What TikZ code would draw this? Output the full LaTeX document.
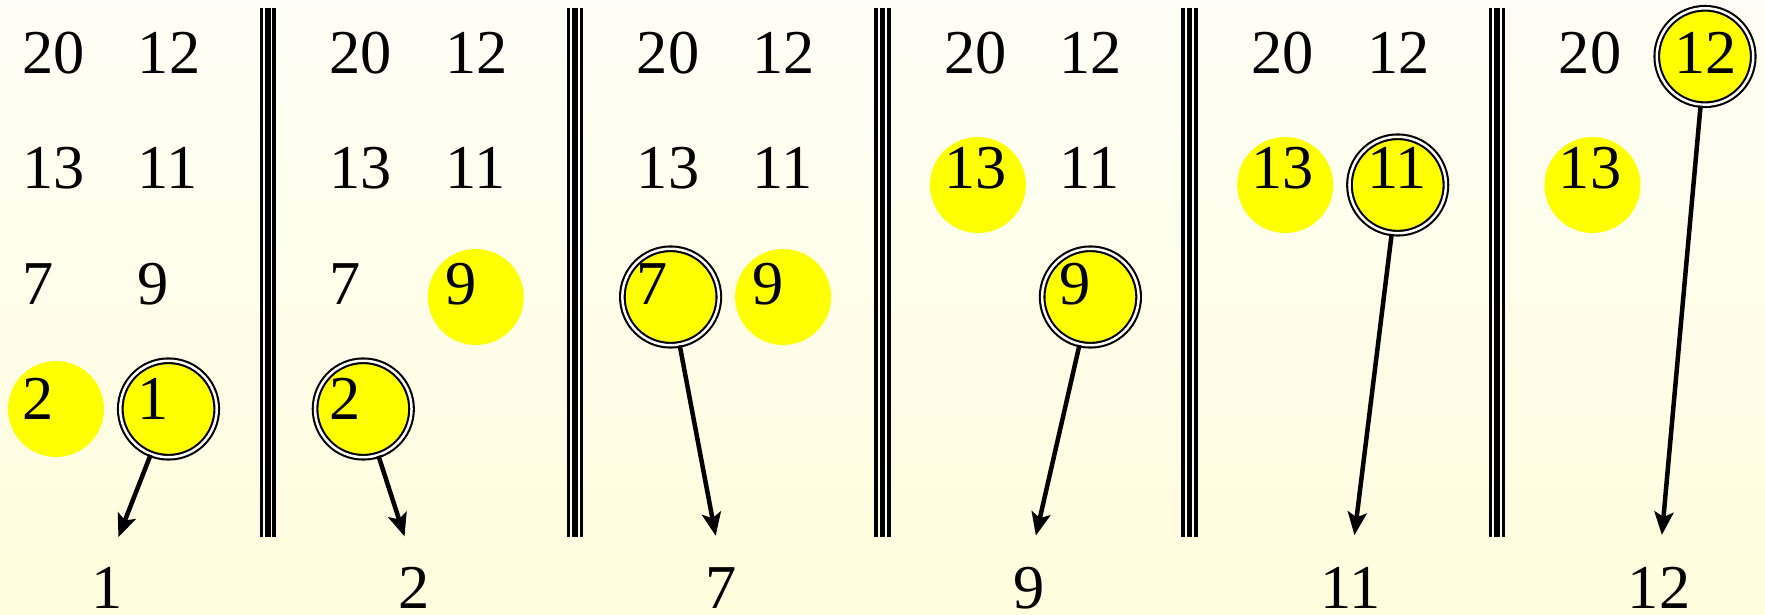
\documentclass[tikz,border=0pt]{standalone}
\usepackage{fontspec}
\setmainfont{Liberation Serif}
\usepackage{tikz}
\usetikzlibrary{arrows.meta}
\definecolor{bgtop}{RGB}{254,254,246}
\definecolor{bgbottom}{RGB}{255,253,220}
\definecolor{hilite}{RGB}{255,255,0}
\tikzset{
    % Number styles
    num/.style={anchor=base west, inner sep=0pt, font=\fontsize{35.5}{40}\selectfont},
    % Circle styles
    seen circle/.style={circle, fill=hilite, minimum size=1.92cm, inner sep=0pt},
    pick circle/.style={circle, fill=hilite, draw=black, line width=0.042cm,
                        double=white, double distance=0.05cm,
                        minimum size=1.93cm, inner sep=0pt},
    % Arrow styles
    arrow/.style={-{Stealth[length=0.46cm, width=0.38cm, inset=0.1cm]},
                  line width=0.09cm, shorten >=0.63cm},
    bar/.style={line width=0.072cm},
    thick bar/.style={line width=0.112cm},
}

\begin{document}
\begin{tikzpicture}[x=0.02cm, y=-0.02cm]
    % Background
    \shade[top color=bgtop, bottom color=bgbottom] (0,0) rectangle (1765,615);
    \useasboundingbox (0,0) rectangle (1765,615);

    % Separators
    \foreach \x in {267.7, 575, 882.3, 1189.6, 1496.9} {
        \draw[bar] (\x-6.4,8) -- (\x-6.4,537);
        \draw[thick bar] (\x,8) -- (\x,537);
        \draw[bar] (\x+6.4,8) -- (\x+6.4,537);
    }

    % Panel 1
    \node[seen circle] (a2c) at (56,409) {};
    \node[pick circle] (a1c) at (168.5,409) {};
    \node[num] (a20) at (22,73.5) {20};
    \node[num] (a12) at (137.5,73.5) {12};
    \node[num] (a13) at (22,189) {13};
    \node[num] (a11) at (137.5,189) {11};
    \node[num] (a7) at (22,304.3) {7};
    \node[num] (a9) at (137.5,304.3) {9};
    \node[num] (a2) at (22,419.7) {2};
    \node[num] (a1) at (137.5,419.7) {1};
    \node[num] (out1) at (91,608) {1};

    % Panel 2
    \node[seen circle] (b9c) at (475.8,297) {};
    \node[pick circle] (b2c) at (363.3,409) {};
    \node[num] (b20) at (329.3,73.5) {20};
    \node[num] (b12) at (444.8,73.5) {12};
    \node[num] (b13) at (329.3,189) {13};
    \node[num] (b11) at (444.8,189) {11};
    \node[num] (b7) at (329.3,304.3) {7};
    \node[num] (b9) at (444.8,304.3) {9};
    \node[num] (b2) at (329.3,419.7) {2};
    \node[num] (out2) at (398.3,608) {2};

    % Panel 3
    \node[pick circle] (c7c) at (670.6,297) {};
    \node[seen circle] (c9c) at (783.1,297) {};
    \node[num] (c20) at (636.6,73.5) {20};
    \node[num] (c12) at (752.1,73.5) {12};
    \node[num] (c13) at (636.6,189) {13};
    \node[num] (c11) at (752.1,189) {11};
    \node[num] (c7) at (636.6,304.3) {7};
    \node[num] (c9) at (752.1,304.3) {9};
    \node[num] (out3) at (705.6,608) {7};

    % Panel 4
    \node[seen circle] (d13c) at (977.9,185) {};
    \node[pick circle] (d9c) at (1090.4,297) {};
    \node[num] (d20) at (943.9,73.5) {20};
    \node[num] (d12) at (1059.4,73.5) {12};
    \node[num] (d13) at (943.9,189) {13};
    \node[num] (d11) at (1059.4,189) {11};
    \node[num] (d9) at (1059.4,304.3) {9};
    \node[num] (out4) at (1012.9,608) {9};

    % Panel 5
    \node[seen circle] (e13c) at (1285.2,185) {};
    \node[pick circle] (e11c) at (1397.7,185) {};
    \node[num] (e20) at (1251.2,73.5) {20};
    \node[num] (e12) at (1366.7,73.5) {12};
    \node[num] (e13) at (1251.2,189) {13};
    \node[num] (e11) at (1366.7,189) {11};
    \node[num] (out5) at (1320.2,608) {11};

    % Panel 6
    \node[seen circle] (f13c) at (1592.5,185) {};
    \node[pick circle] (f12c) at (1705,56.5) {};
    \node[num] (f20) at (1558.5,73.5) {20};
    \node[num] (f12) at (1674,73.5) {12};
    \node[num] (f13) at (1558.5,189) {13};
    \node[num] (out6) at (1627.5,608) {12};

    % Arrows
    \draw[arrow] (a1c) -- (out1.north);
    \draw[arrow] (b2c) -- (out2.north);
    \draw[arrow] (c7c) -- (out3.north);
    \draw[arrow] (d9c) -- (out4.north);
    \draw[arrow] (e11c) -- (out5.north);
    \draw[arrow] (f12c) -- (out6.north);
\end{tikzpicture}
\end{document}
